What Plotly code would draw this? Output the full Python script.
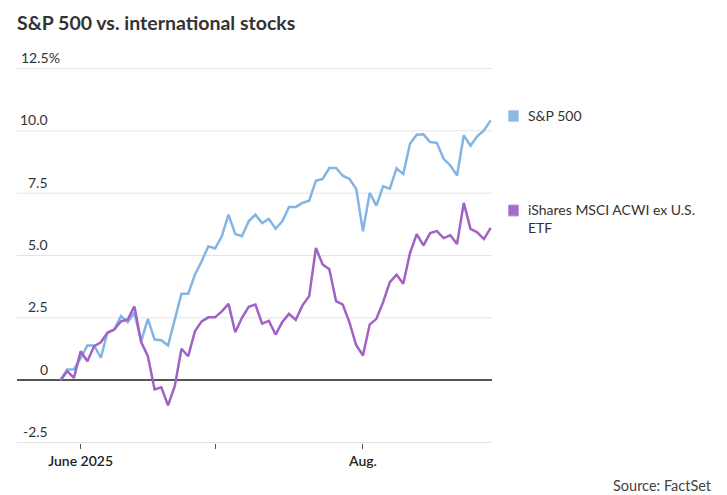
import pandas as pd
import plotly.graph_objects as go

# trading days, May 28 - Aug 28 2025 (no Juneteenth, no July 4)
days = pd.bdate_range("2025-05-28", "2025-08-28")
days = [d.strftime("%Y-%m-%d") for d in days if d.strftime("%Y-%m-%d") not in ("2025-06-19", "2025-07-04")]

# cumulative % change
sp500 = [0.0, 0.43, 0.43, 0.88, 1.39, 1.39, 0.9, 1.92, 2.03, 2.57, 2.33, 2.70, 1.56,
         2.46, 1.63, 1.60, 1.39, 2.43, 3.47, 3.47, 4.23, 4.77, 5.37, 5.28, 5.77, 6.64,
         5.86, 5.77, 6.37, 6.64, 6.30, 6.47, 6.07, 6.37, 6.95, 6.95, 7.11, 7.20, 8.00,
         8.07, 8.51, 8.51, 8.20, 8.07, 7.67, 5.97, 7.51, 7.00, 7.77, 7.68, 8.49, 8.27,
         9.48, 9.84, 9.86, 9.55, 9.52, 8.88, 8.61, 8.21, 9.82, 9.40, 9.78, 10.02, 10.42]
acwx = [0.0, 0.36, 0.09, 1.16, 0.76, 1.36, 1.52, 1.90, 2.03, 2.36, 2.43, 2.96, 1.53,
        0.96, -0.37, -0.29, -1.01, -0.24, 1.26, 0.96, 1.96, 2.36, 2.52, 2.52, 2.76, 3.06,
        1.92, 2.50, 2.94, 3.03, 2.27, 2.38, 1.83, 2.33, 2.66, 2.42, 3.00, 3.37, 5.30,
        4.64, 4.45, 3.17, 3.03, 2.31, 1.40, 0.99, 2.23, 2.46, 3.13, 3.93, 4.23, 3.87,
        5.10, 5.86, 5.41, 5.90, 5.98, 5.70, 5.81, 5.46, 7.11, 6.07, 5.93, 5.66, 6.11]

series_names = ["S&P 500", "iShares MSCI ACWI ex U.S.<br>ETF"]
y_ticks = [12.5, 10.0, 7.5, 5.0, 2.5, 0, -2.5]
y_labels = ["12.5%", "10.0", "7.5", "5.0", "2.5", "0", "-2.5"]
x_ticks = ["2025-06-02", "2025-07-01", "2025-08-01"]
x_labels = ["June 2025", "", "Aug."]

BLUE = "#83b5e4"
PURPLE = "#a062c4"
TXT = "#333333"
FONT = "Lato"

fig = go.Figure()
fig.add_trace(go.Scatter(x=days, y=sp500, mode="lines", line=dict(color=BLUE, width=2.5),
                         name=series_names[0]))
fig.add_trace(go.Scatter(x=days, y=acwx, mode="lines", line=dict(color=PURPLE, width=2.5),
                         name=series_names[1]))

# plot area margins, px
L, R, T, B = 17, 235, 68, 52
W, H = 727, 495
pw = W - L - R
ph = H - T - B


def px_x(p):
    return (p - L) / pw


def px_y(p):
    return (H - B - p) / ph


annos = []
for v, lab in zip(y_ticks, y_labels):
    annos.append(dict(x=px_x(62 if lab.endswith("%") else 50), xref="paper", y=v, yref="y",
                      text=lab, showarrow=False, xanchor="right", yanchor="middle", yshift=11,
                      font=dict(family=FONT, size=14, color=TXT)))

# legend at right
annos.append(dict(x=px_x(526), xref="paper", y=px_y(115.7), yref="paper", text=series_names[0],
                  showarrow=False, xanchor="left", yanchor="middle",
                  font=dict(family=FONT, size=14, color=TXT)))
annos.append(dict(x=px_x(526), xref="paper", y=px_y(218.5), yref="paper", text=series_names[1],
                  showarrow=False, xanchor="left", yanchor="middle", align="left",
                  font=dict(family=FONT, size=14, color=TXT)))
annos.append(dict(x=px_x(714), xref="paper", y=px_y(485), yref="paper", text="Source: FactSet",
                  showarrow=False, xanchor="right", yanchor="middle",
                  font=dict(family=FONT, size=14.5, color="#444444")))

# gridlines drawn as shapes so the edge ones show too
shapes = []
for v in y_ticks:
    if v == 0:
        continue
    shapes.append(dict(type="line", xref="paper", yref="y", x0=0, x1=1, y0=v, y1=v,
                       line=dict(color="#e4e4e4", width=1), layer="below"))
shapes += [
    dict(type="rect", xref="paper", yref="paper", x0=px_x(508.5), x1=px_x(518.5),
         y0=px_y(121.5), y1=px_y(110.5), fillcolor="#8ab9e6", line=dict(color="#b3d1ef", width=1)),
    dict(type="rect", xref="paper", yref="paper", x0=px_x(508.5), x1=px_x(518.5),
         y0=px_y(216), y1=px_y(205), fillcolor="#a46cc8", line=dict(color="#c39be0", width=1)),
]

fig.update_layout(
    width=W, height=H,
    margin=dict(l=L, r=R, t=T, b=B),
    paper_bgcolor="white", plot_bgcolor="white",
    showlegend=False,
    title=dict(text="<b>S&P 500 vs. international stocks</b>", x=L / W, xref="container",
               xanchor="left", y=1 - 23 / H, yanchor="middle",
               font=dict(family=FONT, size=19.5, color=TXT)),
    annotations=annos,
    shapes=shapes,
)
fig.update_xaxes(type="category", range=[-6.47, 64.2], tickmode="array",
                 tickvals=x_ticks, ticktext=x_labels, ticks="outside", ticklen=5,
                 tickcolor="#555555", tickwidth=1, showgrid=False, showline=False,
                 tickfont=dict(family=FONT, size=14, color="#222222", weight=600))
fig.update_yaxes(range=[-2.52, 12.52], tickmode="array", tickvals=y_ticks,
                 showticklabels=False, showgrid=False,
                 zeroline=True, zerolinecolor="#555555", zerolinewidth=1.5)

fig.write_html("out.html", config={"displayModeBar": False},
               post_script="document.body.style.margin='0';")
